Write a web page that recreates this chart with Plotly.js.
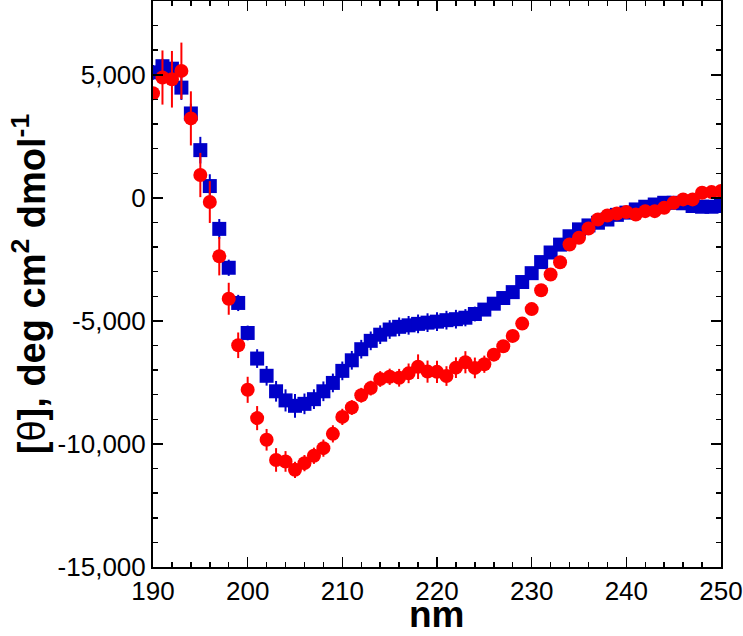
<!DOCTYPE html>
<html>
<head>
<meta charset="utf-8">
<script src="https://cdn.plot.ly/plotly-3.0.1.min.js"></script>
<style>html,body{margin:0;padding:0;background:#fff;}#chart{width:743px;height:636px;}</style>
</head>
<body>
<div id="chart"></div>
<script>
// wavelength (nm)
const wavelength = [190,191,192,193,194,195,196,197,198,199,200,201,202,203,204,205,206,207,208,209,210,211,212,213,214,215,216,217,218,219,220,221,222,223,224,225,226,227,228,229,230,231,232,233,234,235,236,237,238,239,240,241,242,243,244,245,246,247,248,249,250];

// blue squares series
const blueTheta = [5100,5350,5250,4480,3430,1940,480,-1260,-2840,-4270,-5490,-6530,-7230,-7860,-8230,-8450,-8370,-8180,-7860,-7520,-7030,-6600,-6150,-5810,-5560,-5350,-5240,-5180,-5120,-5070,-5030,-4970,-4930,-4870,-4720,-4540,-4300,-4070,-3830,-3420,-3060,-2610,-2220,-1900,-1560,-1280,-1120,-1010,-880,-690,-600,-470,-360,-270,-200,-200,-220,-330,-360,-360,-330];
const blueErr = [300,300,300,500,400,540,480,400,330,330,300,380,400,420,450,480,420,400,400,380,380,380,380,380,380,380,380,380,380,380,380,380,380,350,300,250,220,200,200,200,200,200,200,200,200,200,200,200,200,200,200,200,200,200,200,200,200,200,200,200,200];

// red circles series
const redTheta = [4250,4890,4820,5160,3230,930,-170,-2370,-4100,-5990,-7800,-8950,-9830,-10650,-10710,-11050,-10780,-10480,-10170,-9590,-8900,-8520,-8020,-7730,-7360,-7270,-7310,-7130,-6860,-7060,-7070,-7240,-6900,-6680,-6910,-6760,-6370,-6030,-5610,-5110,-4520,-3755,-3116,-2615,-1895,-1620,-1243,-877,-714,-633,-579,-674,-539,-539,-402,-197,-63,-63,208,235,277];
const redErr = [250,1100,1150,1150,1100,900,850,780,650,520,530,490,440,480,420,330,330,330,350,350,330,300,300,300,320,330,360,400,500,450,450,400,420,450,420,350,250,220,200,200,200,200,200,200,200,200,200,200,200,200,200,200,200,200,200,200,200,200,200,200,200];

// axis ticks and titles
const yTickVals = [-15000,-10000,-5000,0,5000];
const yTickText = ["-15,000","-10,000","-5,000","0","5,000"];
const xTickVals = [190,200,210,220,230,240,250];
const xTickText = ["190","200","210","220","230","240","250"];
const xTitle = "nm";
const yTitle = "[<span style=\"font-weight:normal\">θ</span>], deg cm<sup>2</sup> dmol<sup>-1</sup>";

const blueColor = "#0000c8";
const redColor = "#ff0000";

const traces = [
  {
    x: wavelength, y: blueTheta, type: "scatter", mode: "markers",
    marker: {symbol: "square", size: 14, color: blueColor, line: {width: 0}},
    error_y: {type: "data", array: blueErr, visible: true, color: blueColor, thickness: 2, width: 0},
    showlegend: false
  },
  {
    x: wavelength, y: redTheta, type: "scatter", mode: "markers",
    marker: {symbol: "circle", size: 14, color: redColor, line: {width: 0}},
    error_y: {type: "data", array: redErr, visible: true, color: redColor, thickness: 2, width: 0},
    showlegend: false
  }
];

const fam = "Liberation Sans, Arial, Helvetica, sans-serif";
const axisFont = {family: fam, size: 26, color: "#000"};
const titleFontX = {family: fam, size: 37, color: "#000", weight: "bold"};
const titleFontY = {family: fam, size: 38, color: "#000", weight: "bold"};

const layout = {
  width: 743, height: 636,
  margin: {l: 153, r: 22, t: 1, b: 69, pad: 0},
  paper_bgcolor: "#fff", plot_bgcolor: "#fff",
  showlegend: false,
  xaxis: {
    range: [190, 250], autorange: false,
    tickmode: "array", tickvals: xTickVals, ticktext: xTickText,
    ticks: "inside", ticklen: 10, tickwidth: 1.5, tickcolor: "#000",
    minor: {dtick: 2, tick0: 190, ticks: "inside", ticklen: 5, tickwidth: 1.5, tickcolor: "#000", showgrid: false},
    showline: true, linecolor: "#000", linewidth: 2, mirror: "ticks",
    showgrid: false, zeroline: false,
    tickfont: axisFont
  },
  yaxis: {
    range: [-15000, 8000], autorange: false,
    tickmode: "array", tickvals: yTickVals, ticktext: yTickText,
    ticks: "inside", ticklen: 10, tickwidth: 1.5, tickcolor: "#000",
    minor: {dtick: 1000, tick0: 0, ticks: "inside", ticklen: 5, tickwidth: 1.5, tickcolor: "#000", showgrid: false},
    showline: true, linecolor: "#000", linewidth: 2, mirror: "ticks",
    showgrid: false, zeroline: false,
    tickfont: axisFont,
    title: {text: yTitle, font: titleFontY, standoff: 0}
  },
  annotations: [
    {text: xTitle, xref: "paper", yref: "paper", x: 0.5, y: -0.1219, xanchor: "center", yanchor: "bottom",
     showarrow: false, borderpad: 0, font: titleFontX}
  ]
};

Plotly.newPlot("chart", traces, layout, {staticPlot: true, displayModeBar: false});
</script>
</body>
</html>
